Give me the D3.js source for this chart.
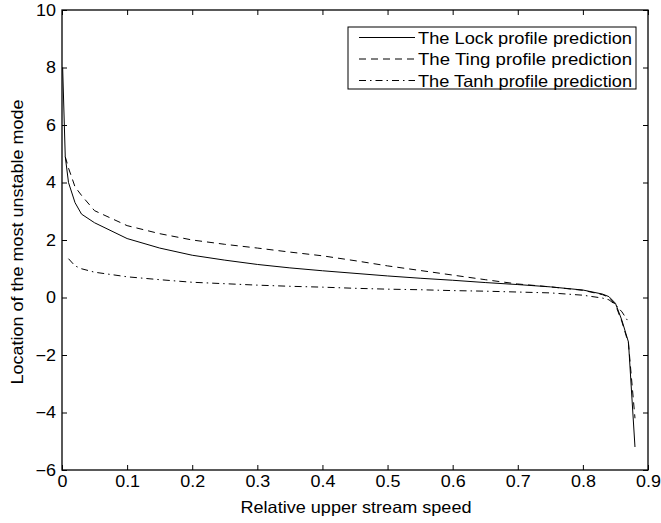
<!DOCTYPE html>
<html><head><meta charset="utf-8">
<script src="https://cdn.jsdelivr.net/npm/d3@7"></script>
<style>body{margin:0;background:#fff}svg{display:block}text{font-family:"Liberation Sans",Arial,sans-serif;fill:#000}</style>
</head><body>
<script>
const speed = [0.001,0.005,0.01,0.02,0.03,0.05,0.1,0.15,0.2,0.25,0.3,0.35,0.4,0.45,0.5,0.55,0.6,0.65,0.7,0.75,0.8,0.83,0.84,0.85,0.86,0.87,0.88];
const lockVals = [8.0,4.9,4.0,3.3,2.9,2.6,2.05,1.72,1.47,1.3,1.15,1.03,0.93,0.84,0.75,0.67,0.6,0.52,0.45,0.37,0.26,0.12,0.03,-0.2,-0.8,-1.55,-5.2];
const tingVals = [null,4.9,4.5,3.85,3.55,3.02,2.5,2.22,2.0,1.85,1.72,1.58,1.45,1.28,1.1,0.94,0.78,0.62,0.47,0.37,0.25,0.1,0.01,-0.25,-0.85,-1.6,-4.2];
const tanhVals = [null,null,1.35,1.1,1.0,0.88,0.72,0.62,0.53,0.48,0.43,0.39,0.36,0.32,0.29,0.27,0.24,0.22,0.19,0.16,0.08,-0.02,-0.08,-0.25,-0.5,-0.85,null];
const seriesNames = ["The Lock profile prediction","The Ting profile prediction","The Tanh profile prediction"];
const xTicks = [0,0.1,0.2,0.3,0.4,0.5,0.6,0.7,0.8,0.9];
const yTicks = [-6,-4,-2,0,2,4,6,8,10];

const W=661,H=523, L=62,R=648,T=10,B=470;
const svg=d3.select("body").append("svg").attr("width",W).attr("height",H);
const x=d3.scaleLinear().domain([0,0.9]).range([L,R]);
const y=d3.scaleLinear().domain([-6,10]).range([B,T]);
const dashes=[null,"7,5","7,4,1.5,4"];
const all=[lockVals,tingVals,tanhVals];
const line=d3.line().defined(d=>d[1]!=null).x(d=>x(d[0])).y(d=>y(d[1]));
const fmt=v=>String(v).replace("-","\u2212");
function stretch(sel,k){sel.each(function(){const n=this.getComputedTextLength();d3.select(this).attr("textLength",n*k).attr("lengthAdjust","spacingAndGlyphs");});}

// axes
const ax=svg.append("g");
ax.append("g").attr("transform",`translate(0,${B})`).call(d3.axisBottom(x).tickValues(xTicks).tickSizeInner(-5).tickSizeOuter(0).tickPadding(6).tickFormat(fmt));
ax.append("g").attr("transform",`translate(0,${T})`).call(d3.axisTop(x).tickValues(xTicks).tickSizeInner(-5).tickSizeOuter(0).tickFormat(""));
ax.append("g").attr("transform",`translate(${L},0)`).call(d3.axisLeft(y).tickValues(yTicks).tickSizeInner(-5).tickSizeOuter(0).tickPadding(6).tickFormat(fmt));
ax.append("g").attr("transform",`translate(${R},0)`).call(d3.axisRight(y).tickValues(yTicks).tickSizeInner(-5).tickSizeOuter(0).tickFormat(""));
ax.selectAll(".domain").remove();
ax.selectAll(".tick line").attr("stroke","#000").attr("stroke-width",1);
ax.selectAll(".tick text").attr("font-size",16).attr("font-family","Liberation Sans, Arial, sans-serif");
stretch(ax.selectAll(".tick text"),1.12);
svg.append("rect").attr("x",L).attr("y",T).attr("width",R-L).attr("height",B-T).attr("fill","none").attr("stroke","#000").attr("stroke-width",1.3);

// lines
all.forEach((vals,i)=>{
  svg.append("path").datum(speed.map((s,j)=>[s,vals[j]])).attr("d",line)
    .attr("fill","none").attr("stroke","#000").attr("stroke-width",1)
    .attr("stroke-dasharray",dashes[i]);
});

// labels
svg.append("text").attr("x",356).attr("y",513).attr("text-anchor","middle").attr("font-size",16.5)
  .attr("textLength",231).attr("lengthAdjust","spacingAndGlyphs").text("Relative upper stream speed");
svg.append("text").attr("transform",`translate(23,242) rotate(-90)`).attr("text-anchor","middle").attr("font-size",16.5)
  .attr("textLength",285).attr("lengthAdjust","spacingAndGlyphs").text("Location of the most unstable mode");

// legend
const lg=svg.append("g");
lg.append("rect").attr("x",348).attr("y",27).attr("width",288).attr("height",62).attr("fill","#fff").attr("stroke","#000").attr("stroke-width",1);
seriesNames.forEach((n,i)=>{
  const yy=37.5+i*21.5;
  lg.append("line").attr("x1",359).attr("x2",415).attr("y1",yy).attr("y2",yy).attr("stroke","#000").attr("stroke-width",1).attr("stroke-dasharray",dashes[i]);
  lg.append("text").attr("x",418).attr("y",yy+6).attr("font-size",16.5)
    .attr("textLength",214).attr("lengthAdjust","spacingAndGlyphs").text(n);
});
</script>
</body></html>
